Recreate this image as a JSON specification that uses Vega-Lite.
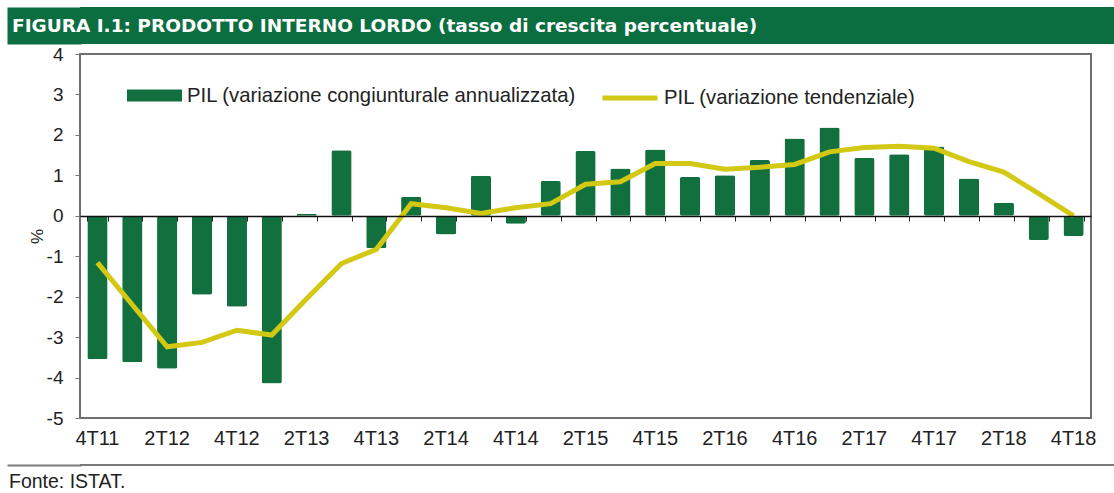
{
  "$schema": "https://vega.github.io/schema/vega-lite/v6.json",
  "background": "white",
  "padding": {"left": 5, "top": 7, "right": 0, "bottom": 0},
  "autosize": {"type": "pad"},
  "spacing": 0,
  "config": {"view": {"stroke": null}, "font": "Liberation Sans"},
  "datasets": {
    "pil": [
      {"q": "4T11", "cong": -3.55, "tend": -1.16},
      {"q": "1T12", "cong": -3.62, "tend": -2.2},
      {"q": "2T12", "cong": -3.78, "tend": -3.24},
      {"q": "3T12", "cong": -1.95, "tend": -3.13},
      {"q": "4T12", "cong": -2.25, "tend": -2.83},
      {"q": "1T13", "cong": -4.15, "tend": -2.95},
      {"q": "2T13", "cong": 0.05, "tend": -2.05},
      {"q": "3T13", "cong": 1.62, "tend": -1.18},
      {"q": "4T13", "cong": -0.8, "tend": -0.83},
      {"q": "1T14", "cong": 0.47, "tend": 0.3},
      {"q": "2T14", "cong": -0.46, "tend": 0.2},
      {"q": "3T14", "cong": 0.99, "tend": 0.06},
      {"q": "4T14", "cong": -0.2, "tend": 0.2},
      {"q": "1T15", "cong": 0.86, "tend": 0.3},
      {"q": "2T15", "cong": 1.6, "tend": 0.78},
      {"q": "3T15", "cong": 1.17, "tend": 0.84},
      {"q": "4T15", "cong": 1.64, "tend": 1.29},
      {"q": "1T16", "cong": 0.96, "tend": 1.29},
      {"q": "2T16", "cong": 1.0, "tend": 1.15},
      {"q": "3T16", "cong": 1.38, "tend": 1.2},
      {"q": "4T16", "cong": 1.91, "tend": 1.27},
      {"q": "1T17", "cong": 2.18, "tend": 1.58},
      {"q": "2T17", "cong": 1.43, "tend": 1.69},
      {"q": "3T17", "cong": 1.52, "tend": 1.72},
      {"q": "4T17", "cong": 1.71, "tend": 1.67},
      {"q": "1T18", "cong": 0.92, "tend": 1.34},
      {"q": "2T18", "cong": 0.32, "tend": 1.08},
      {"q": "3T18", "cong": -0.6, "tend": 0.55},
      {"q": "4T18", "cong": -0.5, "tend": 0.0}
    ],
    "head": [{"pos": 0, "label": "FIGURA I.1: PRODOTTO INTERNO LORDO (tasso di crescita percentuale)"}],
    "foot": [{"pos": 0, "label": "Fonte: ISTAT."}]
  },
  "vconcat": [
    {
      "data": {"name": "head"},
      "width": 1036,
      "height": 37,
      "view": {"fill": "#0b6e40", "stroke": null},
      "mark": {"type": "text", "align": "left", "baseline": "middle", "font": "DejaVu Sans", "fontWeight": "bold", "fontSize": 18.5, "color": "white", "dx": -68},
      "encoding": {
        "x": {"field": "pos", "type": "quantitative", "scale": {"domain": [0, 1]}, "axis": null},
        "y": {
          "field": "pos", "type": "quantitative", "scale": {"domain": [-1, 1]},
          "axis": {"orient": "left", "labels": false, "ticks": false, "grid": false, "title": null, "domainColor": "#0b6e40", "domainWidth": 74, "offset": 36}
        },
        "text": {"field": "label"}
      }
    },
    {
      "data": {"name": "pil"},
      "width": 1011,
      "height": 364,
      "view": {"stroke": "#6f6f6f", "strokeWidth": 2},
      "resolve": {"axis": {"x": "independent"}},
      "layer": [
        {
          "mark": {"type": "bar", "cornerRadius": 2},
          "encoding": {
            "x": {
              "field": "q", "type": "nominal", "sort": null,
              "scale": {"paddingInner": 0.42, "paddingOuter": 0.21},
              "axis": {
                "values": ["4T11", "2T12", "4T12", "2T13", "4T13", "2T14", "4T14", "2T15", "4T15", "2T16", "4T16", "2T17", "4T17", "2T18", "4T18"],
                "domain": false, "ticks": false, "labelAngle": 0, "labelFontSize": 20,
                "labelPadding": 10, "labelColor": "#222",
                "title": " ", "titleFontSize": 14, "titlePadding": 1
              }
            },
            "y": {
              "field": "cong", "type": "quantitative",
              "scale": {"domain": [-5, 4], "nice": false},
              "axis": {
                "values": [-5, -4, -3, -2, -1, 0, 1, 2, 3, 4],
                "labelExpr": "replace(datum.label, '\u2212', '-')",
                "domain": false, "grid": false, "tickSize": 5, "tickColor": "#777",
                "labelFontSize": 19, "labelColor": "#222", "labelPadding": 12,
                "title": ["", "%"], "titleFontSize": 17, "titleFontWeight": "normal",
                "titleColor": "#222", "titlePadding": 0, "titleLineHeight": 22, "titleBaseline": "bottom"
              }
            },
            "fill": {
              "datum": "PIL (variazione congiunturale annualizzata)",
              "scale": {"range": ["#11703e"]},
              "legend": {
                "title": null, "orient": "none", "legendX": 47, "legendY": 61,
                "symbolType": "M-1,-0.22H1V0.22H-1Z", "symbolSize": 3025, "symbolStrokeWidth": 0,
                "labelFontSize": 20.3, "labelColor": "#222", "labelLimit": 600, "labelOffset": 5
              }
            }
          }
        },
        {
          "mark": {"type": "line", "strokeWidth": 5},
          "encoding": {
            "x": {
              "field": "q", "type": "nominal", "sort": null,
              "axis": {
                "orient": "bottom", "offset": -202, "labels": false, "ticks": true, "tickSize": 5,
                "tickColor": "#222", "tickBand": "extent", "domainColor": "#111", "domainWidth": 1.5,
                "title": null, "zindex": 1
              }
            },
            "y": {"field": "tend", "type": "quantitative"},
            "stroke": {
              "datum": "PIL (variazione tendenziale)",
              "scale": {"range": ["#d3c814"]},
              "legend": {
                "title": null, "orient": "none", "legendX": 520, "legendY": 61,
                "symbolType": "stroke", "symbolSize": 3025, "symbolStrokeWidth": 5,
                "labelFontSize": 20.3, "labelColor": "#222", "labelLimit": 600, "labelOffset": 4
              }
            }
          }
        }
      ]
    },
    {
      "data": {"name": "foot"},
      "width": 1036,
      "height": 2,
      "view": {"fill": "#7a7a7a", "stroke": null},
      "mark": {"type": "text", "align": "left", "baseline": "middle", "fontSize": 19.5, "color": "#222", "dx": -71, "dy": 17},
      "encoding": {
        "x": {"field": "pos", "type": "quantitative", "scale": {"domain": [0, 1]}, "axis": null},
        "y": {
          "field": "pos", "type": "quantitative", "scale": {"domain": [-1, 1]},
          "axis": {"orient": "left", "labels": false, "ticks": false, "grid": false, "title": null, "domainColor": "#7a7a7a", "domainWidth": 74, "offset": 36}
        },
        "text": {"field": "label"}
      }
    }
  ]
}
